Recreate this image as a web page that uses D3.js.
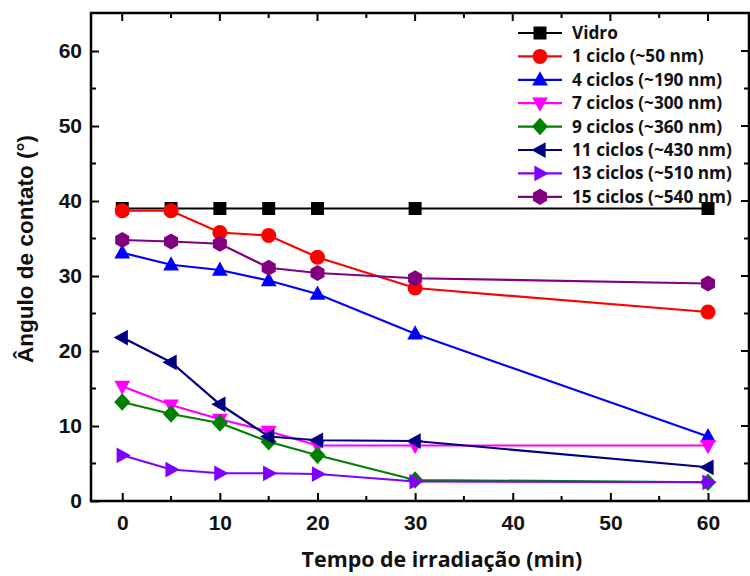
<!DOCTYPE html>
<html><head><meta charset="utf-8">
<script src="https://cdn.jsdelivr.net/npm/d3@7"></script>
<style>body{margin:0;background:#fff}</style>
</head><body>
<svg id="c" width="750" height="576"></svg>
<script>
const times = [0, 5, 10, 15, 20, 30, 60];
const seriesNames = ["Vidro","1 ciclo (~50 nm)","4 ciclos (~190 nm)","7 ciclos (~300 nm)","9 ciclos (~360 nm)","11 ciclos (~430 nm)","13 ciclos (~510 nm)","15 ciclos (~540 nm)"];
const vidro   = [39, 39, 39, 39, 39, 39, 39];
const ciclo1  = [38.7, 38.7, 35.8, 35.4, 32.5, 28.4, 25.2];
const ciclos4 = [33.1, 31.5, 30.8, 29.4, 27.6, 22.3, 8.6];
const ciclos7 = [15.3, 12.8, 10.9, 9.3, 7.4, 7.4, 7.4];
const ciclos9 = [13.2, 11.6, 10.4, 7.9, 6.1, 2.8, 2.5];
const ciclos11= [21.8, 18.5, 12.9, 8.6, 8.1, 8.0, 4.5];
const ciclos13= [6.1, 4.2, 3.7, 3.7, 3.6, 2.6, 2.5];
const ciclos15= [34.8, 34.6, 34.3, 31.1, 30.4, 29.7, 29.0];
const xTicks = [0, 10, 20, 30, 40, 50, 60];
const yTicks = [0, 10, 20, 30, 40, 50, 60];

const values = [vidro, ciclo1, ciclos4, ciclos7, ciclos9, ciclos11, ciclos13, ciclos15];
const colors = ["#000000","#ff0000","#0000ff","#ff00ff","#008000","#000080","#7f00ff","#800080"];
const shapes = ["square","circle","up","down","diamond","left","right","hexagon"];

const svg = d3.select("#c");
const L = 91, R = 749, T = 13, B = 501;
const x = d3.scaleLinear().domain([-3.2, 64.2]).range([L, R]);
const y = d3.scaleLinear().domain([0, 65.07]).range([B, T]);

function markerPath(shape, s) {
  switch (shape) {
    case "square": return `M${-s},${-s}H${s}V${s}H${-s}Z`;
    case "circle": return d3.symbol(d3.symbolCircle, Math.PI*s*s)();
    case "up": return `M0,${-s*1.15}L${s*1.05},${s*0.75}L${-s*1.05},${s*0.75}Z`;
    case "down": return `M0,${s*1.15}L${s*1.05},${-s*0.75}L${-s*1.05},${-s*0.75}Z`;
    case "left": return `M${-s*1.15},0L${s*0.75},${-s*1.05}L${s*0.75},${s*1.05}Z`;
    case "right": return `M${s*1.15},0L${-s*0.75},${-s*1.05}L${-s*0.75},${s*1.05}Z`;
    case "diamond": return `M0,${-s*1.25}L${s*1.15},0L0,${s*1.25}L${-s*1.15},0Z`;
    case "hexagon": {
      const pts = d3.range(6).map(i => { const a = Math.PI/3*i + Math.PI/6; return [s*1.08*Math.cos(a), s*1.08*Math.sin(a)]; });
      return "M" + pts.map(p => p.join(",")).join("L") + "Z";
    }
  }
}
const sizes = {square:6.5, circle:7.5, up:7.5, down:7.5, left:7.5, right:7.5, diamond:7, hexagon:7.5};

function fitWidth(sel, base, target) {
  const w = sel.node().getComputedTextLength();
  if (w > 0) sel.style("font-size", (base * target / w) + "px");
}

// series
const line = d3.line().x((d,i) => x(times[i])).y(d => y(d));
values.forEach((vals, k) => {
  const g = svg.append("g");
  g.append("path").attr("d", line(vals)).attr("fill","none").attr("stroke", colors[k]).attr("stroke-width", 2.2);
  g.selectAll("path.m").data(vals).join("path").attr("class","m")
    .attr("transform", (d,i) => `translate(${x(times[i])},${y(d)})`)
    .attr("d", markerPath(shapes[k], sizes[shapes[k]]))
    .attr("fill", colors[k]);
});

// axes
const tickFont = "bold 21px Arial, 'Liberation Sans', sans-serif";
const xAxis = d3.axisBottom(x).tickValues(xTicks).tickSize(-8).tickPadding(14).tickSizeOuter(0);
const gx = svg.append("g").attr("transform", `translate(0,${B})`).call(xAxis);
const yAxis = d3.axisLeft(y).tickValues(yTicks).tickSize(-8).tickPadding(9).tickSizeOuter(0);
const gy = svg.append("g").attr("transform", `translate(${L},0)`).call(yAxis);
[gx, gy].forEach(g => {
  g.select(".domain").remove();
  g.selectAll("line").attr("stroke","#000").attr("stroke-width",2);
  g.selectAll("text").style("font", tickFont).attr("fill","#111");
});
// minor ticks
const minorX = [5, 15, 25, 35, 45, 55];
const minorY = [5, 15, 25, 35, 45, 55, 65];
svg.append("g").selectAll("line").data(minorX).join("line")
  .attr("x1", d => x(d)).attr("x2", d => x(d)).attr("y1", B).attr("y2", B-5)
  .attr("stroke","#000").attr("stroke-width",2);
svg.append("g").selectAll("line").data(minorY.filter(v => y(v) > T+2)).join("line")
  .attr("x1", L).attr("x2", L+5).attr("y1", d => y(d)).attr("y2", d => y(d))
  .attr("stroke","#000").attr("stroke-width",2);
// top ticks
svg.append("g").selectAll("line").data(xTicks.concat(minorX)).join("line")
  .attr("x1", d => x(d)).attr("x2", d => x(d)).attr("y1", T).attr("y2", d => T + (d % 10 === 0 ? 8 : 5))
  .attr("stroke","#000").attr("stroke-width",2);
// right ticks
svg.append("g").selectAll("line").data(yTicks.concat(minorY.filter(v => y(v) > T+2))).join("line")
  .attr("x1", R).attr("x2", d => R - (d % 10 === 0 ? 8 : 5)).attr("y1", d => y(d)).attr("y2", d => y(d))
  .attr("stroke","#000").attr("stroke-width",2);
// frame
svg.append("rect").attr("x", L).attr("y", T).attr("width", R-L).attr("height", B-T)
  .attr("fill","none").attr("stroke","#000").attr("stroke-width",2.5);

// axis titles
const xt = svg.append("text").attr("x", 442).attr("y", 567).attr("text-anchor","middle")
  .style("font","bold 20px 'Open Sans', Lato, sans-serif").attr("fill","#111")
  .text("Tempo de irradiação (min)");
fitWidth(xt, 20, 281);
const yt = svg.append("text").attr("transform","translate(33,249) rotate(-90)").attr("text-anchor","middle")
  .style("font","bold 19px Arial, 'Liberation Sans', sans-serif").attr("fill","#111")
  .text("Ângulo de contato  (°)");
fitWidth(yt, 19, 228);

// legend
const lg = svg.append("g");
const legTexts = [];
seriesNames.forEach((name, k) => {
  const ly = 33 + k*23.4;
  lg.append("line").attr("x1", 518).attr("x2", 562).attr("y1", ly).attr("y2", ly).attr("stroke", colors[k]).attr("stroke-width", 2.2);
  lg.append("path").attr("transform", `translate(540,${ly})`).attr("d", markerPath(shapes[k], sizes[shapes[k]])).attr("fill", colors[k]);
  legTexts.push(lg.append("text").attr("x", 572).attr("y", ly + 6)
    .style("font","bold 16px 'Open Sans', Lato, sans-serif").attr("fill","#111").text(name));
});
const longest = legTexts[7];
const w0 = longest.node().getComputedTextLength();
legTexts.forEach(t => t.style("font-size", (16 * 160 / w0) + "px"));
</script>
</body></html>
